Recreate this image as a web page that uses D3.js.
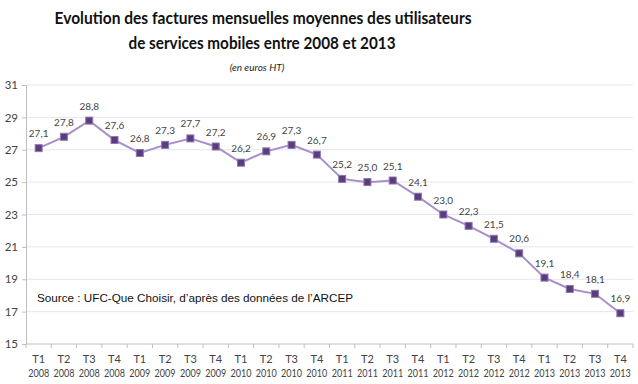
<!doctype html>
<html lang="fr">
<head>
  <meta charset="utf-8">
  <title>factures mobiles</title>
  <style>
    * { margin: 0; padding: 0; box-sizing: border-box; }
    body { background: #fff; }
    svg { display: block; font-family: Lato, "Open Sans", sans-serif; }
  </style>
</head>
<body>
  <div class="chart"></div>
  <script src="https://cdn.jsdelivr.net/npm/d3@7/dist/d3.min.js"></script>
  <script>
    // ---------------------------------------------------------------
    //@@ data
    const quarters = ['T1','T2','T3','T4','T1','T2','T3','T4','T1','T2','T3','T4',
                      'T1','T2','T3','T4','T1','T2','T3','T4','T1','T2','T3','T4'];
    const years = ['2008','2008','2008','2008','2009','2009','2009','2009','2010','2010','2010','2010',
                   '2011','2011','2011','2011','2012','2012','2012','2012','2013','2013','2013','2013'];
    const values = [27.1, 27.8, 28.8, 27.6, 26.8, 27.3, 27.7, 27.2, 26.2, 26.9, 27.3, 26.7,
                    25.2, 25.0, 25.1, 24.1, 23.0, 22.3, 21.5, 20.6, 19.1, 18.4, 18.1, 16.9];
    const yTicks = [15, 17, 19, 21, 23, 25, 27, 29, 31];

    const categories = quarters.map((q, i) => i);

    // ---------------------------------------------------------------
    //@@ svg configuration
    const svgDim = {w: 638, h: 384};
    const plot = {l: 26, r: 633, t: 85, b: 344};

    const svg = d3.select('.chart').append('svg')
      .attr('width', svgDim.w)
      .attr('height', svgDim.h);

    //@@ titles
    svg.append('text')
      .attr('x', 263).attr('y', 24)
      .attr('text-anchor', 'middle')
      .attr('textLength', 417).attr('lengthAdjust', 'spacingAndGlyphs')
      .style('font-size', '17px').style('font-weight', 'bold').style('fill', '#111')
      .text('Evolution des factures mensuelles moyennes des utilisateurs');
    svg.append('text')
      .attr('x', 262).attr('y', 49)
      .attr('text-anchor', 'middle')
      .attr('textLength', 267).attr('lengthAdjust', 'spacingAndGlyphs')
      .style('font-size', '17px').style('font-weight', 'bold').style('fill', '#111')
      .text('de services mobiles entre 2008 et 2013');
    svg.append('text')
      .attr('x', 257).attr('y', 71)
      .attr('text-anchor', 'middle')
      .style('font-size', '10px').style('font-style', 'italic').style('fill', '#222')
      .text('(en euros HT)');

    //@@ scales
    const scaleX = d3.scaleBand().domain(categories).range([plot.l, plot.r]);
    const scaleY = d3.scaleLinear().domain([15, 31]).range([plot.b, plot.t]);
    const cx = i => scaleX(i) + scaleX.bandwidth() / 2;

    //@@ gridlines
    svg.append('g')
      .selectAll('line')
      .data(yTicks.filter(d => d > 15))
      .join('line')
      .attr('x1', plot.l).attr('x2', plot.r)
      .attr('y1', d => scaleY(d)).attr('y2', d => scaleY(d))
      .style('stroke', '#e6e4f0').style('stroke-width', 1);

    //@@ axis Y
    const axisY = d3.axisLeft(scaleY).tickValues(yTicks).tickSize(4).tickPadding(4);
    const gY = svg.append('g')
      .attr('transform', `translate(${plot.l},0)`)
      .call(axisY);
    gY.select('.domain').style('stroke', '#bfbfbf');
    gY.selectAll('.tick line').style('stroke', '#bfbfbf');
    gY.selectAll('text')
      .style('font-size', '11.5px').style('fill', '#444')
      .style('font-family', 'Lato, sans-serif');

    //@@ axis X
    const gX = svg.append('g')
      .attr('transform', `translate(0,${plot.b})`);
    gX.append('line')
      .attr('x1', plot.l).attr('x2', plot.r)
      .style('stroke', '#bfbfbf');
    gX.selectAll('line.tk')
      .data(categories.concat([categories.length]))
      .join('line')
      .attr('class', 'tk')
      .attr('x1', d => plot.l + d * scaleX.step()).attr('x2', d => plot.l + d * scaleX.step())
      .attr('y1', 0).attr('y2', 4)
      .style('stroke', '#bfbfbf');
    const lbl = gX.selectAll('g.lbl')
      .data(categories)
      .join('g')
      .attr('class', 'lbl')
      .attr('transform', d => `translate(${cx(d)},0)`);
    lbl.append('text')
      .attr('y', 19).attr('text-anchor', 'middle')
      .style('font-size', '11px').style('fill', '#444')
      .text(d => quarters[d]);
    lbl.append('text')
      .attr('y', 33).attr('text-anchor', 'middle')
      .attr('textLength', 21).attr('lengthAdjust', 'spacingAndGlyphs')
      .style('font-size', '11px').style('fill', '#444')
      .text(d => years[d]);

    //@@ line
    const line = d3.line().x(d => cx(d)).y(d => scaleY(values[d]));
    svg.append('path')
      .datum(categories)
      .attr('d', line)
      .style('fill', 'none')
      .style('stroke', '#a78fc9')
      .style('stroke-width', 2);

    //@@ markers
    svg.append('g')
      .selectAll('rect')
      .data(categories)
      .join('rect')
      .attr('x', d => cx(d) - 3.5).attr('y', d => scaleY(values[d]) - 3.5)
      .attr('width', 7).attr('height', 7)
      .style('fill', '#5a3d7e').style('stroke', '#8d78ad').style('stroke-width', 1);

    //@@ data labels
    svg.append('g')
      .selectAll('text')
      .data(categories)
      .join('text')
      .attr('x', d => cx(d)).attr('y', d => scaleY(values[d]) - 11)
      .attr('text-anchor', 'middle')
      .style('font-size', '10px').style('fill', '#444')
      .text(d => values[d].toFixed(1).replace('.', ','));

    //@@ source
    svg.append('text')
      .attr('x', 37).attr('y', 302)
      .attr('textLength', 316).attr('lengthAdjust', 'spacingAndGlyphs')
      .style('font-size', '11.5px').style('fill', '#111')
      .style('font-family', '"Liberation Sans", Arial, sans-serif')
      .text("Source : UFC-Que Choisir, d\u2019après des données de l\u2019ARCEP");
  </script>
</body>
</html>
